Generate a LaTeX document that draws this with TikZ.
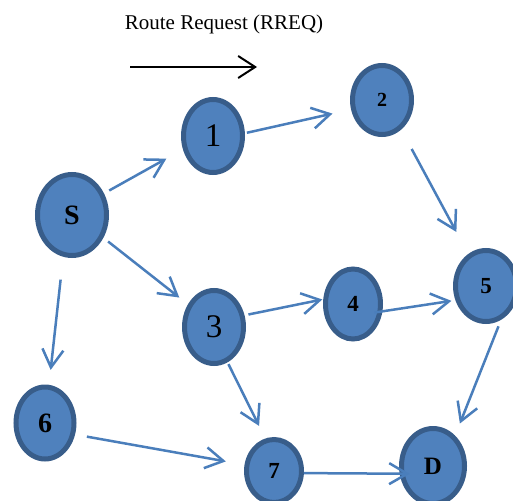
\documentclass[tikz,border=0pt]{standalone}
\usepackage{fontspec}
\setmainfont{Liberation Serif}
\usetikzlibrary{arrows.meta}
\usetikzlibrary{shapes.geometric}
\definecolor{nodefill}{HTML}{4F81BD}
\definecolor{nodeline}{HTML}{385D8A}
\definecolor{linkblue}{HTML}{4A7EBB}
\newcommand\boldlabel[2]{{\fontsize{#1}{#1}\selectfont\bfseries #2}}
\newcommand\plainlabel[2]{{\fontsize{#1}{#1}\selectfont #2}}

\begin{document}
\begin{tikzpicture}[
    x=1pt, y=-1pt,
    station/.style={
      ellipse, draw=nodeline, fill=nodefill, line width=5pt, inner sep=0pt
    },
    arrowtip/.style={
      -{Straight Barb[length=18pt,width=21pt]}, draw=linkblue, line width=2.5pt
    },
    legendtip/.style={
      -{Straight Barb[length=17pt,width=22pt]}, draw=black, line width=2pt
    }
  ]
    \useasboundingbox (0,0) rectangle (513,500);

    \node (title) at (224,24) {\plainlabel{21}{Route Request (RREQ)}};
    \coordinate (legendL) at (130,67);
    \coordinate (legendR) at (257,67);
    \draw[legendtip] (legendL) -- (legendR);

    \node[station, minimum width=69pt, minimum height=81pt] (S) at (72,215) {\boldlabel{28}{S}};
    \node[station, minimum width=59pt, minimum height=73pt] (N1) at (213,136) {\plainlabel{33}{1}};
    \node[station, minimum width=59pt, minimum height=69pt] (N2) at (382,100) {\boldlabel{20}{2}};
    \node[station, minimum width=59pt, minimum height=73pt] (N3) at (214,327) {\plainlabel{33}{3}};
    \node[station, minimum width=55pt, minimum height=70pt] (N4) at (353,304) {\boldlabel{23}{4}};
    \node[station, minimum width=61pt, minimum height=71pt] (N5) at (486,286) {\boldlabel{23}{5}};
    \node[station, minimum width=58pt, minimum height=72pt] (N6) at (45,423) {\boldlabel{28}{6}};
    \node[station, minimum width=55pt, minimum height=63pt] (N7) at (274,471) {\boldlabel{23}{7}};
    \node[station, minimum width=63pt, minimum height=75pt] (D) at (433,466) {\boldlabel{25}{D}};

    \draw[arrowtip, shorten <=6pt, shorten >=19pt] (S.34) -- (N1.204);
    \draw[arrowtip, shorten <=6pt, shorten >=11pt] (S.-36) -- (N3.139);
    \draw[arrowtip, shorten <=23pt, shorten >=15pt] (S.-102) -- (N6.84);
    \draw[arrowtip, shorten <=2pt, shorten >=19pt] (N1.5) -- (N2.197);
    \draw[arrowtip, shorten <=22pt, shorten >=25pt] (N2.-57) -- (N5.119);
    \draw[arrowtip, shorten <=4pt, shorten >=1pt] (N3.21) -- (N4.171);
    \draw[arrowtip, shorten <=-8pt, shorten >=4pt] (N4.-14) -- (N5.205);
    \draw[arrowtip, shorten <=2pt, shorten >=14pt] (N3.-69) -- (N7.105);
    \draw[arrowtip, shorten <=7pt, shorten >=13pt] (N5.-66) -- (D.54);
    \draw[arrowtip, shorten <=12pt, shorten >=19pt] (N6.-21) -- (N7.168);
    \draw[arrowtip, shorten <=0pt, shorten >=-10pt] (N7.-4) -- (D.193);
  \end{tikzpicture}
\end{document}
